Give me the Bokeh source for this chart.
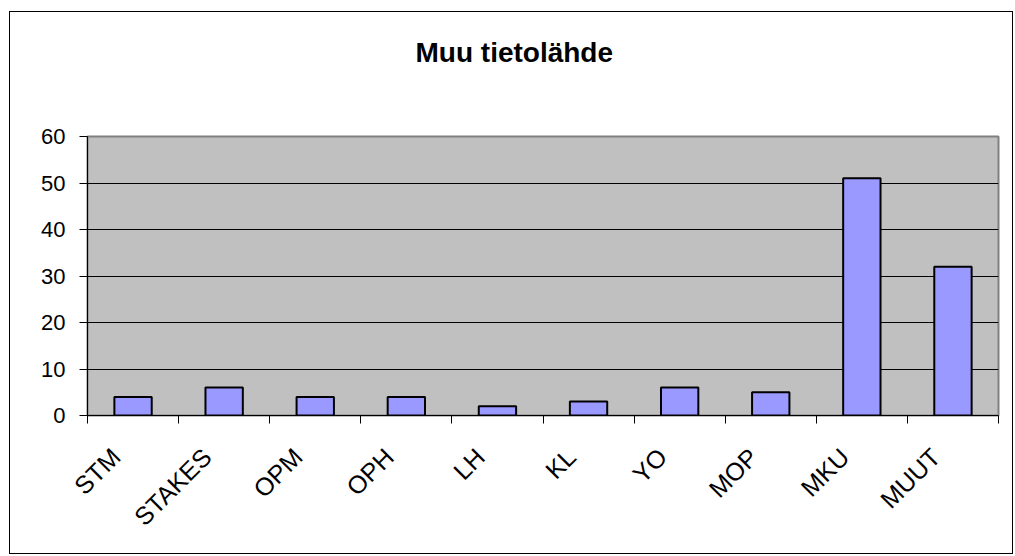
from bokeh.plotting import figure
from bokeh.models import Range1d, FixedTicker, LinearAxis, Title
from bokeh.embed import file_html
from bokeh.resources import INLINE

categories = ["STM", "STAKES", "OPM", "OPH", "LH", "KL", "YO", "MOP", "MKU", "MUUT"]
values = [4, 6, 4, 4, 2, 3, 6, 5, 51, 32]
y_ticks = [0, 10, 20, 30, 40, 50, 60]
title_text = "Muu tietolähde"

FONT = "Liberation Sans"

n = len(categories)
xs = [i + 0.5 for i in range(n)]
bounds = list(range(n + 1))

p = figure(width=1004, height=543,
           x_range=Range1d(0, n), y_range=Range1d(0, 60),
           output_backend="svg", toolbar_location=None,
           min_border_left=77, min_border_top=124, min_border_right=16, min_border_bottom=140)
p.margin = (11, 0, 0, 9)
p.styles = {"border": "1px solid black"}
p.background_fill_color = "#C0C0C0"
p.border_fill_color = "white"
p.outline_line_color = "#808080"
p.outline_line_width = 2

p.vbar(x=xs, top=values, width=0.41, bottom=0,
       fill_color="#9999FF", line_color="black", line_width=2)

# y axis
p.yaxis.ticker = FixedTicker(ticks=y_ticks)
p.yaxis.major_tick_out = 8
p.yaxis.major_tick_in = 0
p.yaxis.minor_tick_line_color = None
p.yaxis.axis_line_color = "black"
p.yaxis.major_tick_line_color = "black"
p.yaxis.major_label_text_font = FONT
p.yaxis.major_label_text_font_size = "22px"
p.yaxis.major_label_text_color = "black"
p.yaxis.major_label_standoff = 14

# x axis: boundary ticks only
p.xaxis.ticker = FixedTicker(ticks=bounds)
p.xaxis.major_label_overrides = {b: "" for b in bounds}
p.xaxis.major_tick_line_color = "black"
p.xaxis.major_tick_out = 8
p.xaxis.major_tick_in = 0
p.xaxis.minor_tick_line_color = None
p.xaxis.axis_line_color = "black"
p.xaxis.major_label_standoff = 0

# x axis: category labels (slightly offset range to place rotated labels)
p.extra_x_ranges = {"lab": Range1d(0.19, n + 0.19)}
lab_axis = LinearAxis(x_range_name="lab", ticker=FixedTicker(ticks=xs))
lab_axis.major_label_overrides = {x: c for x, c in zip(xs, categories)}
lab_axis.axis_line_color = None
lab_axis.major_tick_line_color = None
lab_axis.minor_tick_line_color = None
lab_axis.major_tick_out = 0
lab_axis.major_label_orientation = 0.785398
lab_axis.major_label_text_font = FONT
lab_axis.major_label_text_font_size = "25px"
lab_axis.major_label_text_color = "black"
lab_axis.major_label_standoff = 29
p.add_layout(lab_axis, "below")

p.xgrid.grid_line_color = None
p.ygrid.ticker = FixedTicker(ticks=y_ticks)
p.ygrid.grid_line_color = "black"
p.ygrid.grid_line_width = 1

# title: a blank spacer title next to the frame, then the real title above it
p.title.text = ""
spacer = Title(text=" ", text_font_size="10px", standoff=56)
p.add_layout(spacer, "above")
main_title = Title(text=title_text, align="left", offset=328, standoff=0,
                   text_font=FONT, text_font_size="28px", text_font_style="bold",
                   text_color="black")
p.add_layout(main_title, "above")

open("out.html", "w").write(file_html(p, INLINE))
